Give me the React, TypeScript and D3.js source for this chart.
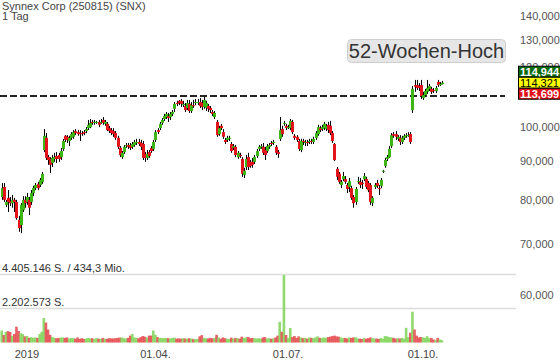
import React from "react";
import * as d3 from "d3";

const TITLE = "Synnex Corp (250815) (SNX)";
const PERIOD = "1 Tag";
const START_DATE = "2018-12-13";
const HOLIDAYS = ["2018-12-25", "2019-01-01", "2019-01-21", "2019-02-18", "2019-04-19", "2019-05-27", "2019-07-04", "2019-09-02"];

// open, high, low, close
const ohlc: [number, number, number, number][] = [
  [80.8, 84.3, 80.1, 83.0], [83.3, 84.3, 79.6, 80.1], [78.9, 80.1, 78.4, 79.6], [80.6, 82.5, 77.2, 79.6], [79.8, 80.8, 78.6, 79.3],
  [79.3, 81.3, 78.2, 80.1], [80.1, 80.6, 77.2, 79.6], [79.6, 80.1, 75.4, 75.8], [75.4, 76.3, 72.7, 73.5], [74.2, 79.3, 72.4, 78.9],
  [77.7, 81.0, 77.2, 80.1], [80.1, 81.0, 78.2, 79.3], [79.6, 81.8, 78.9, 80.8], [80.1, 80.8, 76.5, 78.2], [79.6, 82.5, 78.9, 81.8],
  [81.8, 83.6, 81.0, 83.0], [83.0, 84.3, 82.5, 83.8], [84.1, 84.6, 82.5, 83.0], [83.8, 85.6, 83.3, 85.1], [84.6, 87.2, 84.1, 86.7],
  [93.2, 99.3, 92.6, 97.3], [96.7, 98.1, 90.4, 91.0], [91.2, 91.8, 89.1, 90.4], [90.7, 91.2, 86.9, 89.1], [89.6, 91.8, 88.5, 91.0],
  [90.7, 92.4, 89.9, 91.2], [91.5, 92.6, 89.6, 90.7], [91.8, 92.4, 89.9, 90.7], [91.2, 93.8, 90.4, 92.9], [93.5, 96.4, 92.9, 95.8],
  [97.3, 97.5, 95.5, 96.1], [97.0, 97.5, 95.2, 96.1], [95.8, 97.3, 94.3, 96.7], [96.7, 98.4, 96.1, 97.8], [97.0, 99.0, 96.4, 98.4],
  [98.7, 99.3, 97.5, 98.1], [98.4, 99.0, 97.3, 97.8], [98.1, 99.0, 95.8, 97.8], [98.1, 98.7, 97.3, 97.8], [98.4, 99.0, 97.5, 98.1],
  [98.7, 99.9, 98.1, 99.3], [99.6, 102.1, 99.0, 100.6], [99.9, 102.4, 99.6, 101.2], [101.5, 102.1, 100.6, 101.2], [101.2, 102.1, 100.6, 101.5],
  [101.2, 101.8, 100.9, 101.5], [101.5, 102.1, 99.9, 100.6], [101.2, 102.4, 100.9, 101.5], [102.1, 103.0, 100.6, 101.2], [100.9, 102.1, 100.3, 101.5],
  [100.9, 101.5, 98.7, 99.0], [99.6, 100.3, 98.1, 98.7], [99.0, 99.6, 97.5, 98.1], [98.7, 99.6, 97.0, 97.8], [98.1, 98.7, 96.1, 96.7],
  [96.7, 97.3, 93.5, 94.1], [93.8, 94.3, 91.2, 91.8], [91.2, 92.9, 90.7, 92.4], [92.6, 94.6, 92.1, 94.1], [94.3, 95.2, 93.8, 94.6],
  [94.6, 95.2, 93.5, 94.1], [94.6, 95.2, 93.2, 93.8], [94.1, 95.5, 93.5, 94.9], [94.6, 96.1, 94.1, 95.5], [95.2, 96.4, 94.6, 95.5],
  [95.5, 96.4, 94.3, 94.9], [95.2, 96.1, 93.2, 94.1], [94.9, 95.8, 90.4, 91.0], [92.1, 92.6, 89.9, 91.0], [91.0, 93.2, 90.4, 92.1],
  [92.6, 93.2, 91.0, 91.5], [93.8, 94.3, 92.4, 92.9], [93.5, 96.1, 92.9, 95.5], [96.1, 99.0, 95.5, 98.4], [99.0, 99.6, 97.8, 98.4],
  [99.6, 101.5, 99.0, 100.9], [101.2, 102.7, 100.6, 102.1], [102.4, 104.0, 101.8, 103.3], [103.0, 104.6, 102.4, 104.0], [103.3, 104.3, 101.5, 102.7],
  [103.0, 104.6, 102.1, 104.0], [104.0, 105.2, 103.3, 104.6], [105.6, 107.8, 104.6, 107.2], [107.5, 108.2, 106.5, 107.2], [108.2, 108.5, 106.8, 107.5],
  [108.2, 108.8, 106.2, 107.2], [106.8, 108.2, 106.2, 107.2], [106.5, 107.5, 104.6, 105.2], [105.9, 108.5, 105.2, 107.5], [107.2, 108.5, 104.3, 104.9],
  [104.9, 107.8, 104.3, 106.8], [106.8, 108.5, 105.9, 106.5], [107.5, 108.8, 106.8, 107.8], [107.7, 108.8, 106.8, 107.8], [107.8, 109.1, 105.9, 106.5],
  [107.5, 108.5, 105.2, 106.2], [106.2, 109.5, 105.6, 108.5], [105.9, 108.2, 104.9, 107.5], [106.5, 107.2, 104.6, 105.6], [105.9, 106.5, 104.3, 105.2],
  [104.6, 105.2, 103.3, 104.0], [103.0, 104.9, 102.4, 104.3], [101.5, 102.1, 97.0, 97.5], [97.8, 100.3, 97.3, 99.6], [100.3, 100.9, 99.0, 99.6],
  [98.4, 99.3, 96.4, 97.0], [96.1, 96.7, 94.9, 95.5], [96.1, 97.3, 95.5, 96.7], [96.4, 97.3, 95.8, 96.7], [94.9, 95.5, 92.4, 92.9],
  [93.8, 94.9, 93.2, 94.3], [94.1, 94.6, 91.2, 91.8], [91.2, 92.9, 90.7, 92.4], [91.8, 92.4, 91.0, 91.5], [90.7, 91.2, 85.9, 86.7],
  [86.4, 88.3, 85.6, 87.5], [88.5, 91.8, 87.7, 90.7], [91.2, 92.4, 87.7, 88.5], [89.9, 90.4, 88.3, 88.8], [89.9, 91.0, 88.3, 89.1],
  [89.9, 91.8, 89.3, 91.2], [91.5, 93.5, 91.0, 92.9], [93.5, 94.6, 92.9, 94.1], [94.1, 94.9, 93.5, 94.3], [94.1, 95.2, 91.8, 92.4],
  [93.2, 94.1, 90.4, 91.8], [92.9, 94.9, 92.4, 94.3], [94.1, 95.2, 93.5, 94.6], [95.2, 95.8, 94.3, 94.9], [95.2, 96.1, 94.6, 95.5],
  [94.1, 94.6, 91.8, 92.4], [92.6, 93.2, 91.0, 92.1], [96.4, 103.0, 95.8, 99.0], [99.3, 100.3, 97.0, 97.8], [100.9, 101.8, 100.3, 101.2],
  [100.3, 100.9, 99.0, 99.6], [99.8, 100.6, 99.3, 99.9], [99.6, 102.4, 99.0, 101.8], [101.5, 102.1, 97.8, 98.4], [97.3, 97.8, 96.1, 96.7],
  [97.0, 97.5, 95.5, 96.1], [95.8, 96.4, 92.9, 93.5], [93.2, 96.4, 92.6, 95.8], [95.8, 96.4, 94.6, 95.5], [95.2, 96.1, 94.3, 95.5],
  [95.5, 96.1, 94.3, 95.2], [95.5, 96.4, 94.9, 95.8], [95.8, 96.4, 94.9, 95.5], [95.5, 97.0, 94.9, 96.4], [96.7, 98.7, 96.1, 98.1],
  [97.8, 100.6, 97.3, 99.9], [99.6, 100.3, 98.4, 99.0], [99.3, 100.6, 98.7, 99.9], [99.6, 101.5, 99.0, 100.9], [99.3, 100.9, 98.7, 100.3],
  [100.6, 101.5, 98.1, 99.0], [100.3, 101.8, 97.5, 98.1], [98.1, 98.7, 95.2, 95.8], [94.9, 95.2, 90.1, 90.4], [88.0, 88.5, 85.1, 85.9],
  [86.7, 87.2, 84.1, 84.6], [83.8, 85.1, 83.0, 84.6], [85.3, 87.2, 84.8, 86.1], [85.3, 86.1, 84.1, 84.6], [83.8, 84.3, 81.8, 82.8],
  [83.3, 85.6, 82.0, 84.8], [83.0, 83.6, 80.1, 80.6], [80.8, 81.3, 78.2, 79.3], [79.6, 83.3, 78.9, 82.8], [84.6, 85.9, 84.1, 84.8],
  [84.6, 85.6, 83.0, 83.8], [84.3, 85.1, 82.8, 84.1], [85.3, 86.9, 84.8, 86.1], [85.3, 85.9, 82.8, 83.3], [84.3, 84.8, 82.0, 82.5],
  [83.8, 84.3, 78.9, 79.6], [79.3, 81.0, 78.6, 80.6], [83.3, 84.3, 82.8, 83.8], [84.3, 85.1, 83.0, 83.6], [83.0, 83.8, 81.3, 82.8],
  [83.6, 85.6, 83.0, 85.1], [87.3, 87.7, 86.9, 87.5], [88.8, 91.0, 88.3, 90.4], [90.7, 91.8, 90.1, 91.2], [91.2, 94.3, 91.0, 93.5],
  [94.3, 98.1, 93.8, 97.5], [97.8, 98.4, 96.7, 97.3], [97.8, 98.7, 96.1, 97.0], [96.4, 97.5, 95.8, 97.0], [96.7, 97.5, 94.6, 95.5],
  [95.5, 97.3, 94.9, 96.7], [96.7, 97.8, 96.1, 97.3], [97.3, 98.1, 96.7, 97.5], [97.4, 98.4, 97.0, 97.5], [97.8, 98.4, 94.9, 95.5],
  [105.2, 113.2, 104.3, 112.2], [113.5, 115.3, 111.2, 112.9], [113.5, 115.3, 111.8, 112.5], [113.2, 114.2, 111.5, 112.5], [113.5, 115.3, 108.8, 109.8],
  [109.1, 111.2, 108.5, 110.1], [110.1, 112.2, 109.5, 111.5], [111.2, 115.3, 110.5, 112.5], [112.2, 113.9, 111.5, 113.2], [112.2, 112.9, 110.5, 111.2],
  [111.8, 112.5, 110.8, 111.5], [111.5, 113.2, 110.8, 112.5], [114.6, 115.3, 112.9, 113.5], [113.5, 114.6, 113.2, 113.9], [113.9, 114.944, 113.699, 114.321],
];

// volume in thousands of shares
const volumeK: number[] = [
  780, 490, 690, 740, 690, 430, 560, 1030, 760, 600,
  550, 400, 430, 300, 350, 300, 330, 300, 550, 700,
  1600, 1300, 850, 500, 360, 300, 280, 300, 320, 330,
  300, 330, 250, 300, 280, 250, 330, 240, 280, 230,
  250, 300, 270, 280, 230, 290, 250, 240, 300, 250,
  240, 280, 270, 260, 280, 300, 320, 330, 280, 260,
  300, 450, 550, 330, 300, 280, 350, 420, 380, 320,
  450, 450, 780, 500, 350, 300, 300, 280, 300, 280,
  260, 300, 320, 250, 270, 250, 280, 260, 250, 280,
  260, 220, 220, 240, 400, 480, 300, 280, 260, 300,
  280, 300, 500, 330, 250, 330, 280, 250, 230, 320,
  260, 300, 280, 250, 380, 300, 330, 360, 280, 300,
  280, 260, 280, 250, 330, 350, 260, 280, 250, 270,
  330, 450, 1350, 700, 4405.146, 490, 300, 950, 350, 420,
  300, 400, 330, 280, 300, 250, 330, 300, 280, 330,
  400, 300, 280, 330, 300, 350, 380, 420, 450, 400,
  380, 330, 280, 300, 260, 330, 300, 330, 350, 260,
  250, 230, 300, 250, 280, 330, 300, 250, 260, 230,
  300, 250, 420, 400, 350, 330, 300, 260, 280, 260,
  300, 250, 960, 350, 640, 2010, 850, 450, 330, 360,
  330, 300, 410, 280, 300, 200, 150, 300, 200, 150,
];

const priceTicks = [60, 70, 80, 90, 100, 120, 130, 140];
const xTickDates = ["2019-01-02", "2019-04-01", "2019-07-01", "2019-10-01"];
const xTickLabels = ["2019", "01.04.", "01.07.", "01.10."];
const high52 = 109.8;
const VOL_MAX_K = 4405.146;
const VOL_MAX_LABEL = "4.405.146 S. / 434,3 Mio.";
const VOL_MID_LABEL = "2.202.573 S.";
const HIGH_LABEL = "52-Wochen-Hoch";

function tradingDays(start: string, n: number): string[] {
  const out: string[] = [];
  const d = new Date(start + "T00:00:00Z");
  while (out.length < n) {
    const wd = d.getUTCDay();
    const s = d.toISOString().slice(0, 10);
    if (wd !== 0 && wd !== 6 && !HOLIDAYS.includes(s)) out.push(s);
    d.setUTCDate(d.getUTCDate() + 1);
  }
  return out;
}

const FONT = "'Liberation Sans', Arial, sans-serif";
const GREEN = "#3db515";
const RED = "#e3141c";
const VGREEN = "#7ed456";
const VRED = "#e3454a";

export default function App() {
  const W = 560, H = 363;
  const dates = tradingDays(START_DATE, ohlc.length);
  const x = d3.scalePoint<string>().domain(dates).range([1.7, 441.9]);
  const y = d3.scaleLog().domain([60, 140]).range([295, 16]);
  const yv = d3.scaleLinear().domain([0, VOL_MAX_K]).range([342.5, 275]);
  const loc = d3.formatLocale({ decimal: ",", thousands: ".", grouping: [3], currency: ["", ""] });
  const fmt = loc.format(".3f");

  const last = ohlc[ohlc.length - 1];
  const tagH = 11;
  const yClose = y(last[3]);
  const yHighTag = Math.min(y(last[1]), yClose - tagH);
  const yLowTag = Math.max(y(last[2]), yClose + tagH);
  const tags = [
    { v: last[1], cy: yHighTag, fill: "#0b6b0b", color: "#fff", weight: "bold" },
    { v: last[3], cy: yClose, fill: "#ffff00", color: "#000", weight: "normal" },
    { v: last[2], cy: yLowTag, fill: "#e0101a", color: "#fff", weight: "bold" },
  ];

  return (
    <div style={{ position: "fixed", left: 0, top: 0, width: W, height: H, background: "#fff" }}>
      <svg width={W} height={H} style={{ display: "block", fontFamily: FONT }}>
        <rect width={W} height={H} fill="#fff" />
        <text x={2} y={10} fontSize={11} fill="#444">{TITLE}</text>
        <text x={2} y={20} fontSize={11} fill="#444">{PERIOD}</text>

        {/* volume grid */}
        {[VOL_MAX_K, VOL_MAX_K / 2].map((v, k) => (
          <line key={k} x1={0} x2={516} y1={Math.round(yv(v)) - 0.5} y2={Math.round(yv(v)) - 0.5} stroke="#dcdcdc" strokeWidth={1.5} />
        ))}
        <text x={2} y={271.5} fontSize={11} fill="#333">{VOL_MAX_LABEL}</text>
        <text x={2} y={306} fontSize={11} fill="#333">{VOL_MID_LABEL}</text>

        {/* volume bars */}
        <g>
          {volumeK.map((v, i) => {
            const c = ohlc[i];
            const up = c[3] >= c[0];
            const xc = x(dates[i])!;
            return (
              <rect key={i} x={xc - 1.3} width={2.6} y={yv(v)} height={yv(0) - yv(v)}
                fill={up ? VGREEN : VRED} fillOpacity={0.85} />
            );
          })}
        </g>

        {/* price ticks */}
        {priceTicks.map((t) => (
          <text key={t} x={520} y={y(t) + 4} fontSize={11} fill="#555">{fmt(t)}</text>
        ))}

        {/* x ticks */}
        {xTickDates.map((d, k) => (
          <text key={d} x={x(d)!} y={357.5} fontSize={11} fill="#444" textAnchor="middle">{xTickLabels[k]}</text>
        ))}

        {/* 52-week-high line */}
        <line x1={0} x2={505} y1={y(high52)} y2={y(high52)} stroke="#222" strokeWidth={2} strokeDasharray="7 3" />

        {/* candles */}
        <g>
          {ohlc.map((c, i) => {
            const [o, h, l, cl] = c;
            const xc = Math.round(x(dates[i])!);
            const up = cl >= o;
            const top = y(Math.max(o, cl));
            const bot = y(Math.min(o, cl));
            return (
              <g key={i}>
                <line x1={xc + 0.5} x2={xc + 0.5} y1={y(h)} y2={y(l)} stroke="#000" strokeWidth={1} />
                <rect x={xc - 1} width={3} y={top} height={Math.max(1, bot - top)} fill={up ? GREEN : RED} />
              </g>
            );
          })}
        </g>

        {/* label box */}
        <rect x={347.5} y={39.5} width={158} height={23} rx={4} fill="#e6e6e6" stroke="#cfcfcf" />
        <text x={426.5} y={57.5} fontSize={20} fill="#333" textAnchor="middle">{HIGH_LABEL}</text>

        {/* price tags */}
        {tags.map((t, k) => (
          <g key={k}>
            <rect x={518.5} y={t.cy - tagH / 2} width={42} height={tagH} fill={t.fill} stroke="#000" strokeWidth={1} />
            <text x={520} y={t.cy + 4} fontSize={11} fontWeight={t.weight} fill={t.color}>{fmt(t.v)}</text>
          </g>
        ))}
      </svg>
    </div>
  );
}
